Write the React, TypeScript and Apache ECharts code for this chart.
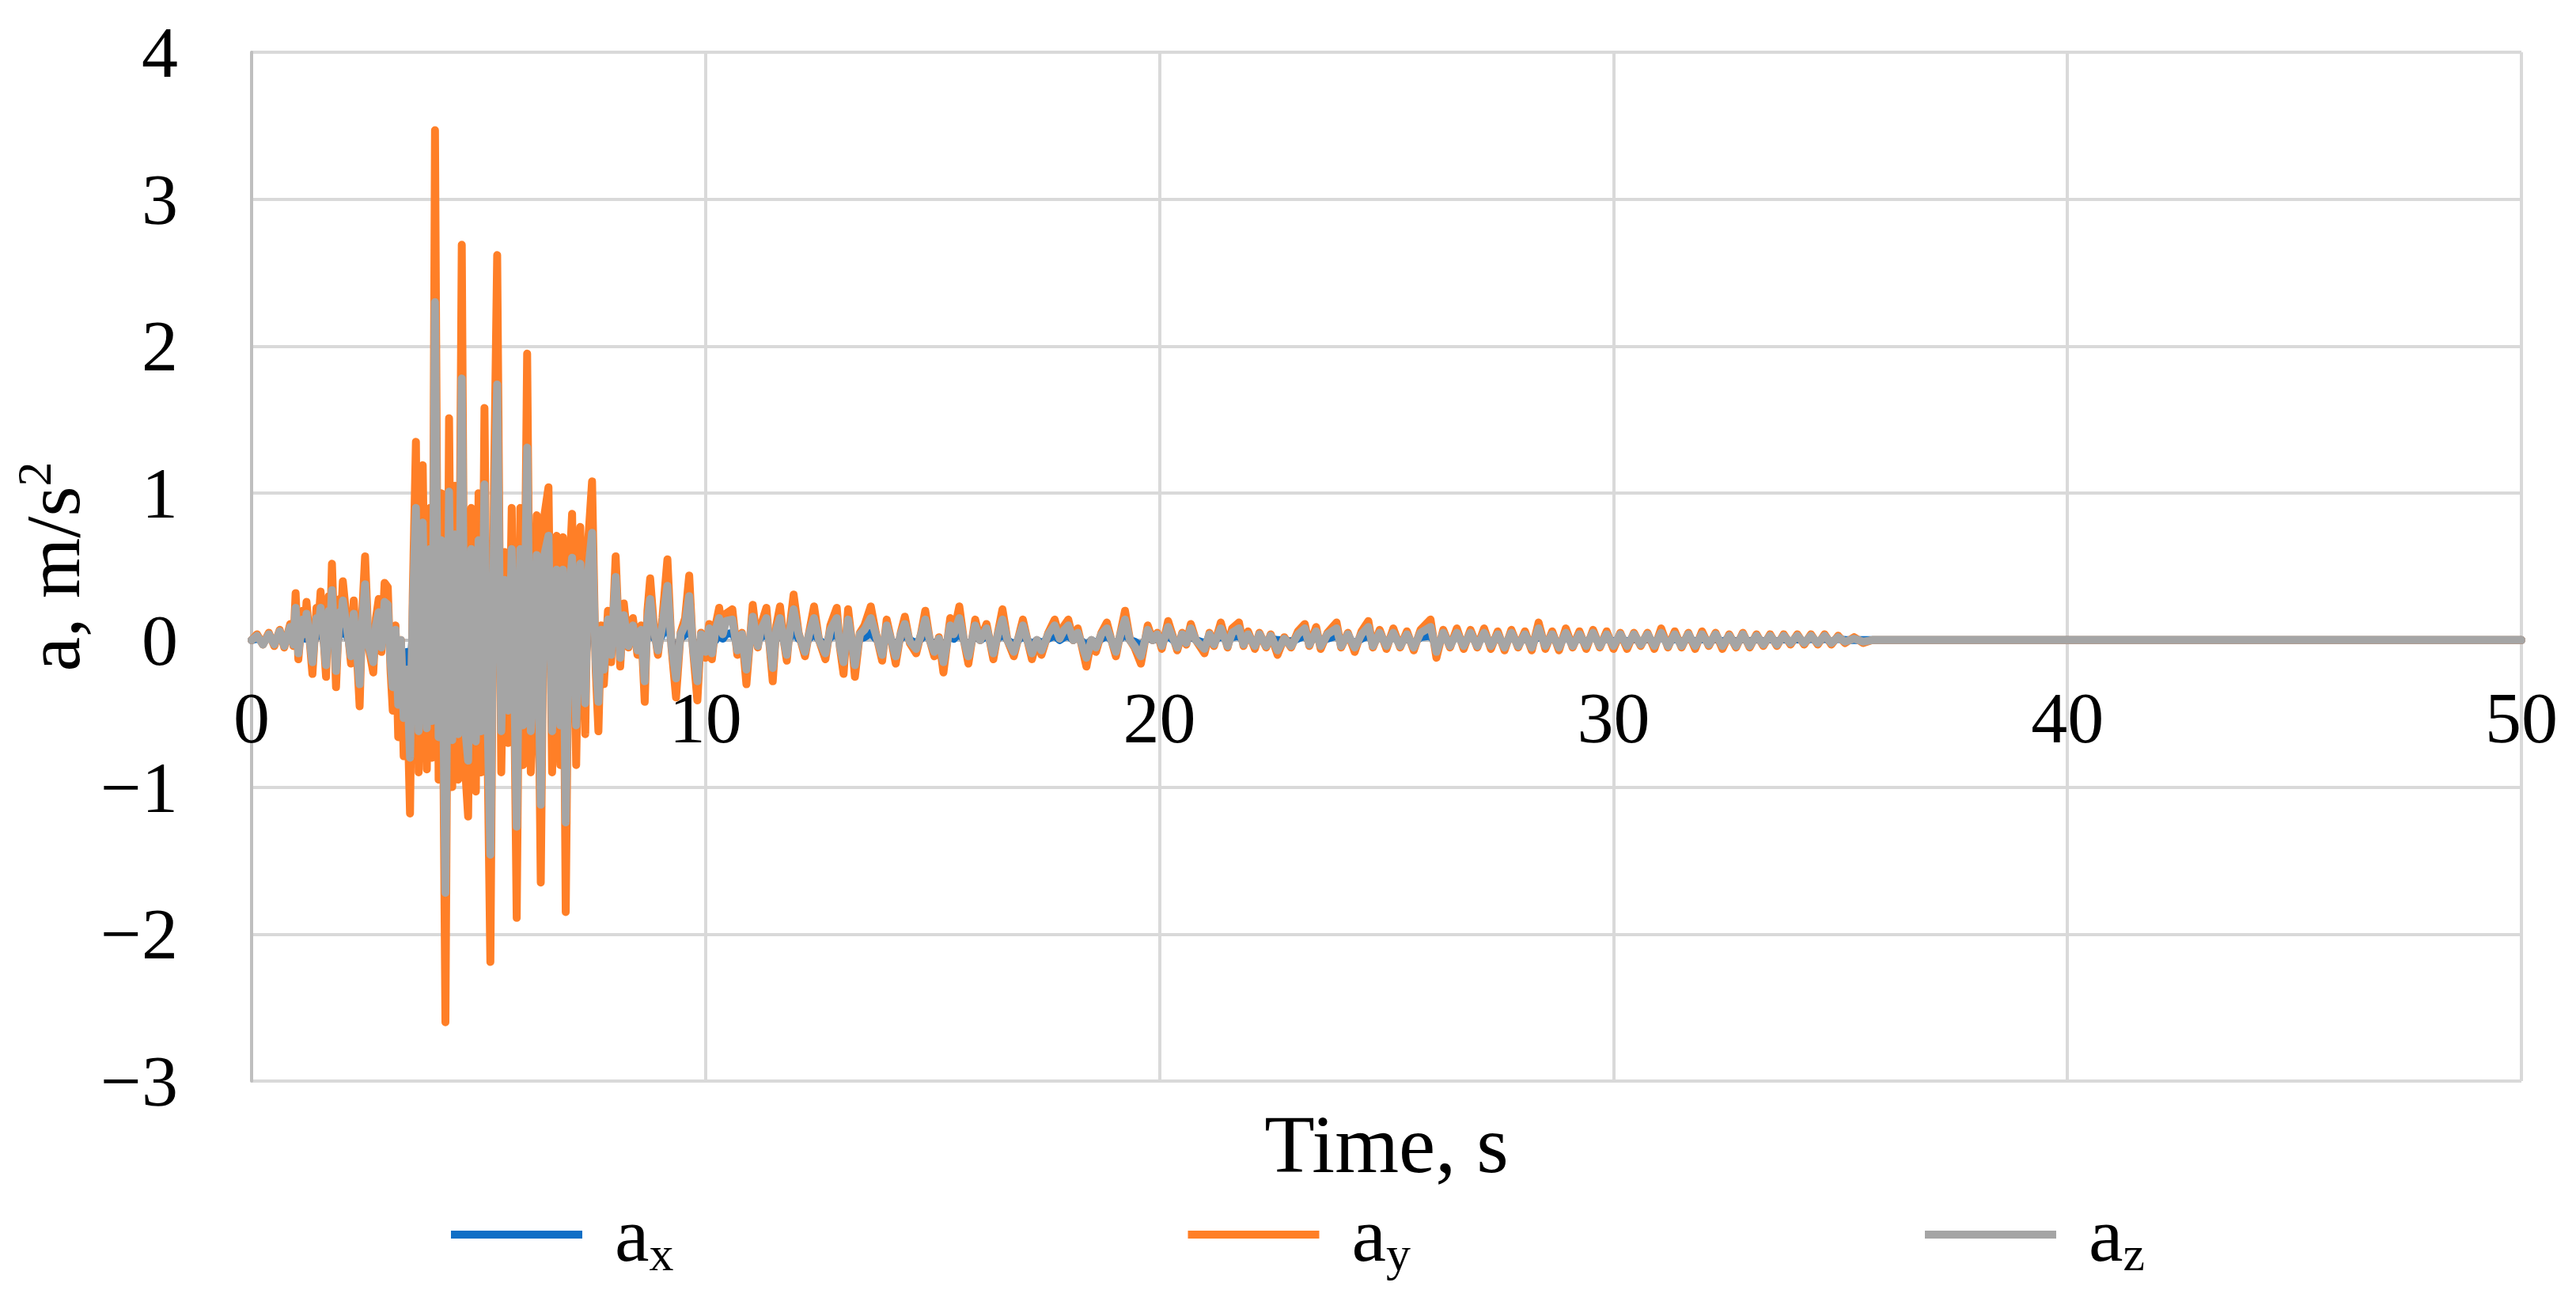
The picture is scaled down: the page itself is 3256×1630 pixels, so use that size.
import React, { useEffect, useRef } from "react";
import * as echarts from "echarts";

// Time stamps (s) of the turning points
const timeS = [
  0.00,0.12,0.25,0.38,0.50,0.62,0.72,0.85,0.92,0.97,
  1.03,1.12,1.17,1.21,1.34,1.43,1.47,1.52,1.64,1.70,
  1.74,1.77,1.86,1.94,1.97,2.01,2.10,2.19,2.25,2.32,
  2.38,2.44,2.50,2.58,2.68,2.74,2.80,2.86,2.93,3.00,
  3.06,3.11,3.17,3.23,3.29,3.35,3.42,3.49,3.55,3.62,
  3.68,3.77,3.86,3.93,3.98,4.04,4.12,4.18,4.27,4.35,
  4.42,4.48,4.55,4.63,4.70,4.77,4.84,4.88,4.94,5.00,
  5.06,5.13,5.20,5.26,5.34,5.41,5.50,5.58,5.65,5.73,
  5.78,5.84,5.92,5.98,6.07,6.15,6.22,6.28,6.37,6.45,
  6.54,6.62,6.72,6.80,6.86,6.92,6.99,7.06,7.15,7.24,
  7.35,7.42,7.50,7.58,7.64,7.70,7.76,7.85,7.92,8.02,
  8.12,8.20,8.30,8.40,8.50,8.58,8.66,8.72,8.78,8.86,
  8.95,9.05,9.16,9.25,9.35,9.45,9.55,9.64,9.72,9.82,
  9.90,10.00,10.08,10.14,10.22,10.30,10.38,10.45,10.59,10.70,
  10.80,10.90,11.04,11.15,11.22,11.34,11.40,11.48,11.56,11.64,
  11.72,11.79,11.86,11.94,12.05,12.19,12.28,12.39,12.50,12.64,
  12.75,12.89,12.96,13.04,13.14,13.22,13.29,13.40,13.50,13.64,
  13.75,13.89,13.99,14.09,14.19,14.30,14.39,14.50,14.64,14.75,
  14.84,14.94,15.04,15.14,15.24,15.39,15.47,15.59,15.69,15.79,
  15.94,16.05,16.19,16.34,16.44,16.54,16.65,16.79,16.99,17.09,
  17.19,17.30,17.40,17.55,17.69,17.80,17.90,17.99,18.10,18.20,
  18.39,18.50,18.60,18.72,18.84,18.94,19.04,19.14,19.24,19.35,
  19.45,19.59,19.74,19.85,19.95,20.05,20.19,20.30,20.39,20.50,
  20.59,20.69,20.80,20.99,21.10,21.20,21.35,21.50,21.60,21.75,
  21.85,21.95,22.10,22.20,22.35,22.45,22.60,22.75,22.90,23.05,
  23.20,23.30,23.45,23.55,23.70,23.90,24.00,24.15,24.30,24.45,
  24.60,24.70,24.85,25.00,25.15,25.30,25.45,25.60,25.75,25.97,
  26.10,26.25,26.40,26.55,26.70,26.85,27.00,27.15,27.30,27.45,
  27.60,27.75,27.90,28.05,28.20,28.35,28.50,28.65,28.80,28.95,
  29.10,29.25,29.40,29.55,29.70,29.85,30.00,30.15,30.30,30.45,
  30.60,30.75,30.90,31.05,31.20,31.35,31.50,31.65,31.80,31.95,
  32.10,32.25,32.40,32.55,32.70,32.85,33.00,33.15,33.30,33.45,
  33.60,33.75,33.90,34.05,34.20,34.35,34.50,34.65,34.80,34.95,
  35.10,35.30,35.50,35.70,50.00,
];

// a_y (orange), m/s²
const ay = [
  0.00,0.04,-0.03,0.05,-0.04,0.07,-0.05,0.11,-0.04,0.32,
  -0.13,0.20,0.05,0.26,-0.23,0.22,0.10,0.33,-0.25,0.30,
  0.18,0.52,-0.32,0.28,0.15,0.40,0.12,-0.16,0.27,-0.10,
  -0.45,0.20,0.57,-0.05,-0.22,0.15,0.28,-0.08,0.39,0.36,
  -0.20,-0.48,0.10,-0.66,0.00,-0.79,-0.30,-1.18,0.30,1.35,
  -0.90,1.19,-0.88,0.90,-0.80,3.47,-0.95,1.00,-2.60,1.51,
  -1.00,1.05,-0.95,2.69,-0.85,-1.20,0.90,0.20,-1.03,1.00,
  -0.90,1.58,-0.80,-2.19,1.05,2.62,-0.90,0.60,-0.70,0.90,
  -0.20,-1.89,0.90,-0.85,1.95,-0.90,-0.30,0.85,-1.65,0.85,
  1.04,-0.90,0.71,-0.85,0.70,-1.85,0.40,0.86,-0.85,0.77,
  -0.64,0.70,1.08,-0.20,-0.62,0.10,-0.30,0.20,-0.15,0.57,
  -0.18,0.25,-0.05,0.15,-0.10,0.10,-0.42,0.20,0.42,0.10,
  -0.10,0.15,0.55,-0.05,-0.39,0.05,0.15,0.44,-0.05,-0.41,
  0.05,-0.12,0.11,-0.13,0.10,0.22,0.05,0.18,0.21,-0.10,
  0.05,-0.30,0.24,-0.05,0.10,0.22,0.00,-0.28,0.10,0.23,
  0.00,-0.14,0.10,0.31,0.05,-0.11,0.05,0.23,0.00,-0.13,
  0.10,0.22,-0.05,-0.23,0.21,0.00,-0.25,0.05,0.10,0.23,
  0.05,-0.14,0.14,0.00,-0.16,0.05,0.16,-0.02,-0.09,0.05,
  0.20,0.00,-0.11,0.02,-0.22,0.15,0.05,0.23,0.00,-0.16,
  0.14,0.00,0.11,-0.13,0.05,0.21,0.00,-0.11,0.14,0.00,
  -0.13,0.00,-0.10,0.05,0.14,0.02,0.10,0.14,0.00,0.08,
  -0.18,0.00,-0.08,0.05,0.12,0.00,-0.11,0.05,0.20,0.00,
  -0.05,-0.16,0.10,0.00,0.05,-0.06,0.13,0.02,-0.07,0.05,
  -0.03,0.11,0.00,-0.09,0.05,-0.04,0.12,-0.05,0.08,0.12,
  -0.04,0.06,-0.06,0.05,-0.05,0.04,-0.10,0.02,-0.05,0.06,
  0.11,-0.04,0.09,-0.06,0.05,0.12,-0.05,0.05,-0.08,0.06,
  0.13,-0.05,0.07,-0.06,0.08,-0.05,0.06,-0.07,0.07,0.14,
  -0.12,0.07,-0.05,0.08,-0.06,0.07,-0.05,0.08,-0.06,0.06,
  -0.07,0.07,-0.05,0.06,-0.07,0.12,-0.06,0.06,-0.07,0.08,
  -0.05,0.06,-0.06,0.07,-0.05,0.06,-0.06,0.05,-0.06,0.05,
  -0.04,0.05,-0.06,0.08,-0.05,0.06,-0.05,0.05,-0.06,0.06,
  -0.04,0.05,-0.06,0.04,-0.05,0.05,-0.05,0.04,-0.04,0.04,
  -0.04,0.04,-0.03,0.04,-0.03,0.04,-0.03,0.04,-0.03,0.03,
  -0.02,0.02,-0.02,0.00,0.00,
];

// a_z (grey), m/s²
const az = [
  0.00,0.03,-0.03,0.04,-0.03,0.06,-0.04,0.09,-0.03,0.22,
  -0.09,0.14,0.04,0.18,-0.15,0.15,0.07,0.22,-0.17,0.20,
  0.13,0.34,-0.21,0.19,0.11,0.27,0.08,-0.11,0.18,-0.07,
  -0.30,0.13,0.38,-0.04,-0.15,0.10,0.19,-0.05,0.26,0.24,
  -0.14,-0.32,0.07,-0.44,0.00,-0.53,-0.20,-0.80,0.20,0.90,
  -0.62,0.80,-0.60,0.62,-0.55,2.30,-0.66,0.68,-1.72,1.01,
  -0.68,0.72,-0.64,1.78,-0.58,-0.82,0.62,0.14,-0.69,0.68,
  -0.62,1.06,-0.55,-1.46,0.72,1.74,-0.62,0.41,-0.48,0.62,
  -0.14,-1.27,0.62,-0.58,1.31,-0.62,-0.20,0.58,-1.12,0.58,
  0.71,-0.62,0.48,-0.58,0.48,-1.24,0.27,0.56,-0.58,0.52,
  -0.43,0.48,0.73,-0.14,-0.42,0.07,-0.20,0.14,-0.10,0.43,
  -0.12,0.17,-0.04,0.10,-0.07,0.07,-0.28,0.13,0.28,0.07,
  -0.07,0.10,0.37,-0.04,-0.26,0.04,0.10,0.30,-0.04,-0.28,
  0.04,-0.08,0.08,-0.09,0.07,0.15,0.04,0.13,0.14,-0.07,
  0.04,-0.20,0.16,-0.04,0.07,0.15,0.00,-0.19,0.07,0.15,
  0.00,-0.10,0.07,0.21,0.04,-0.08,0.04,0.15,0.00,-0.09,
  0.07,0.15,-0.04,-0.15,0.14,0.00,-0.17,0.04,0.07,0.15,
  0.04,-0.10,0.10,0.00,-0.11,0.04,0.11,-0.01,-0.06,0.04,
  0.14,0.00,-0.08,0.01,-0.15,0.10,0.04,0.15,0.00,-0.11,
  0.10,0.00,0.08,-0.09,0.04,0.14,0.00,-0.08,0.10,0.00,
  -0.09,0.00,-0.07,0.04,0.10,0.01,0.07,0.10,0.00,0.05,
  -0.12,0.00,-0.05,0.04,0.08,0.00,-0.08,0.04,0.14,0.00,
  -0.04,-0.11,0.07,0.00,0.04,-0.04,0.09,0.01,-0.05,0.04,
  -0.02,0.08,0.00,-0.06,0.04,-0.03,0.08,-0.04,0.05,0.08,
  -0.03,0.04,-0.04,0.04,-0.04,0.03,-0.07,0.01,-0.04,0.04,
  0.08,-0.03,0.06,-0.04,0.04,0.08,-0.04,0.04,-0.05,0.04,
  0.09,-0.04,0.05,-0.04,0.05,-0.04,0.04,-0.05,0.05,0.09,
  -0.08,0.05,-0.04,0.05,-0.04,0.05,-0.04,0.05,-0.04,0.04,
  -0.05,0.05,-0.04,0.04,-0.05,0.08,-0.04,0.04,-0.05,0.05,
  -0.04,0.04,-0.04,0.05,-0.04,0.04,-0.04,0.04,-0.04,0.04,
  -0.03,0.04,-0.04,0.05,-0.04,0.04,-0.04,0.04,-0.04,0.04,
  -0.03,0.04,-0.04,0.03,-0.04,0.04,-0.04,0.03,-0.03,0.03,
  -0.03,0.03,-0.02,0.03,-0.02,0.03,-0.02,0.03,-0.02,0.02,
  -0.01,0.01,-0.01,0.00,0.00,
];

// a_x (blue), m/s² — mostly hidden under the other two traces
const ax = [
  0.00,0.01,-0.01,0.02,-0.01,0.02,-0.02,0.03,-0.01,0.08,
  -0.04,0.05,0.01,0.06,-0.06,0.05,0.03,0.08,-0.07,0.07,
  0.04,0.12,-0.08,0.07,0.04,0.10,0.03,-0.04,0.06,-0.03,
  -0.11,0.05,0.14,-0.01,-0.05,0.04,0.07,-0.02,0.09,0.08,
  -0.05,-0.12,0.02,-0.16,-0.05,-0.20,-0.08,-0.28,0.06,0.32,
  0.10,0.28,-0.21,0.13,-0.10,0.82,-0.17,0.19,-0.62,0.36,
  -0.18,0.23,-0.12,0.64,-0.14,-0.29,0.13,0.05,-0.25,0.18,
  -0.12,0.38,-0.10,-0.52,0.19,0.62,-0.07,-0.14,0.12,0.21,
  -0.05,-0.45,0.10,-0.07,0.46,-0.10,0.07,0.14,-0.39,0.07,
  0.25,-0.11,0.17,-0.13,0.05,-0.44,0.10,0.20,-0.07,0.18,
  -0.15,0.07,0.26,-0.05,-0.15,0.02,0.02,0.05,-0.04,0.14,
  -0.04,0.06,-0.01,0.04,-0.02,0.02,-0.10,0.05,0.10,0.02,
  -0.02,0.04,0.13,-0.01,-0.09,0.01,0.04,0.10,-0.01,-0.10,
  0.01,-0.03,0.03,-0.03,0.00,0.05,0.01,0.04,0.05,-0.02,
  0.01,-0.07,0.06,-0.01,0.02,0.05,0.00,-0.07,0.02,0.05,
  0.00,-0.03,0.02,0.07,0.01,-0.03,0.01,0.05,0.00,-0.03,
  0.02,0.05,-0.01,-0.05,0.05,0.00,-0.06,0.01,0.02,0.05,
  0.01,-0.03,0.03,0.00,-0.04,0.01,0.04,0.00,-0.02,0.01,
  0.05,0.00,-0.03,0.00,-0.05,0.03,0.01,0.05,0.00,-0.04,
  0.03,0.00,0.03,-0.03,0.01,0.05,0.00,-0.03,0.03,0.00,
  -0.03,0.00,-0.02,0.01,0.03,0.00,0.02,0.03,0.00,0.02,
  -0.04,0.00,-0.02,0.01,0.03,0.00,-0.03,0.01,0.05,0.00,
  -0.01,-0.04,0.02,0.00,0.01,-0.01,0.03,0.00,-0.02,0.01,
  -0.01,0.03,0.00,-0.02,0.01,-0.01,0.03,-0.01,0.02,0.03,
  -0.01,0.01,-0.01,0.01,-0.01,0.01,0.00,0.00,-0.01,0.01,
  0.03,-0.01,0.02,-0.01,0.01,0.03,-0.01,0.01,-0.02,0.01,
  0.03,-0.01,0.02,-0.01,0.02,-0.01,0.01,-0.02,0.02,0.03,
  -0.03,0.02,-0.01,0.02,-0.01,0.02,-0.01,0.02,-0.01,0.01,
  -0.02,0.02,-0.01,0.01,-0.02,0.03,-0.01,0.01,-0.02,0.02,
  -0.01,0.01,-0.01,0.02,-0.01,0.01,-0.01,0.01,-0.01,0.01,
  -0.01,0.01,-0.01,0.02,-0.01,0.01,-0.01,0.01,-0.01,0.01,
  -0.01,0.01,-0.01,0.01,-0.01,0.01,-0.01,0.01,-0.01,0.01,
  -0.01,0.01,-0.01,0.01,-0.01,0.01,-0.01,0.01,-0.01,0.01,
  0.00,0.00,0.00,0.00,0.00,
];

const seriesNames = ["ax", "ay", "az"];
const seriesColors = ["#0f6fc6", "#ff7f27", "#a5a5a5"];
const seriesValues = [ax, ay, az];

const xTicks = { min: 0, max: 50, interval: 10 };
const yTicks = { min: -3, max: 4, interval: 1 };

const FONT = '"Liberation Serif", "Times New Roman", serif';

const GRID_TOP = 66;
const GRID_HEIGHT = 1300;

export default function App() {
  const ref = useRef<HTMLDivElement>(null);

  useEffect(() => {
    document.body.style.margin = "0";
    if (!ref.current) return;
    const chart = echarts.init(ref.current, null, { renderer: "svg" });

    const series = seriesNames.map((name, k) => ({
      name,
      type: "line",
      data: timeS.map((t, i) => [t, seriesValues[k][i] ?? 0]),
      showSymbol: false,
      symbol: "none",
      silent: true,
      color: seriesColors[k],
      lineStyle: { width: 10, color: seriesColors[k], join: "round", cap: "round" },
      z: 2 + k,
    }));

    // place the x axis on the y = 0 line (as in the reference)
    const zeroFromBottom = (GRID_HEIGHT * (0 - yTicks.min)) / (yTicks.max - yTicks.min);

    chart.setOption({
      animation: false,
      backgroundColor: "#ffffff",
      textStyle: { fontFamily: FONT, color: "#000" },
      grid: { left: 318, top: GRID_TOP, width: 2869, height: GRID_HEIGHT, outerBoundsMode: "none", containLabel: false },
      xAxis: {
        type: "value",
        position: "bottom",
        offset: -zeroFromBottom,
        min: xTicks.min,
        max: xTicks.max,
        interval: xTicks.interval,
        axisLine: { show: true, onZero: false, lineStyle: { color: "#bfbfbf", width: 4 } },
        axisTick: { show: false },
        axisLabel: { fontSize: 92, color: "#000", fontFamily: FONT, margin: 52 },
        splitLine: { show: true, lineStyle: { color: "#d9d9d9", width: 4 } },
        name: "Time, s",
        nameLocation: "middle",
        nameGap: 585,
        nameTextStyle: { fontSize: 104, color: "#000", fontFamily: FONT },
      },
      yAxis: {
        type: "value",
        min: yTicks.min,
        max: yTicks.max,
        interval: yTicks.interval,
        axisLine: { show: true, onZero: false, lineStyle: { color: "#bfbfbf", width: 4 } },
        axisTick: { show: false },
        axisLabel: {
          fontSize: 92,
          color: "#000",
          fontFamily: FONT,
          margin: 93,
          formatter: (v: number) => (v < 0 ? "\u2212" + Math.abs(v) : String(v)),
        },
        splitLine: { show: true, lineStyle: { color: "#d9d9d9", width: 4 } },
        name: "{n|a, m/s}{sup|2}",
        nameLocation: "middle",
        nameGap: 180,
        nameRotate: 90,
        nameTextStyle: {
          color: "#000",
          fontFamily: FONT,
          rich: {
            n: { fontSize: 98, fontFamily: FONT, color: "#000", lineHeight: 110 },
            sup: { fontSize: 62, fontFamily: FONT, color: "#000", lineHeight: 62, verticalAlign: "top" },
          },
        },
      },
      legend: {
        data: seriesNames,
        left: 565,
        top: 1506,
        orient: "horizontal",
        icon: "rect",
        itemWidth: 166,
        itemHeight: 10,
        itemGap: 650,
        formatter: (name: string) => `{a|a}{s|${name.slice(1)}}`,
        textStyle: {
          color: "#000",
          fontFamily: FONT,
          rich: {
            a: { fontSize: 98, fontFamily: FONT, color: "#000", lineHeight: 110, padding: [0, 0, 0, 36] },
            s: { fontSize: 62, fontFamily: FONT, color: "#000", lineHeight: 62, verticalAlign: "bottom" },
          },
        },
      },
      series,
    });

    return () => chart.dispose();
  }, []);

  return (
    <div
      ref={ref}
      style={{ position: "fixed", left: 0, top: 0, width: 3256, height: 1630, background: "#fff" }}
    />
  );
}
